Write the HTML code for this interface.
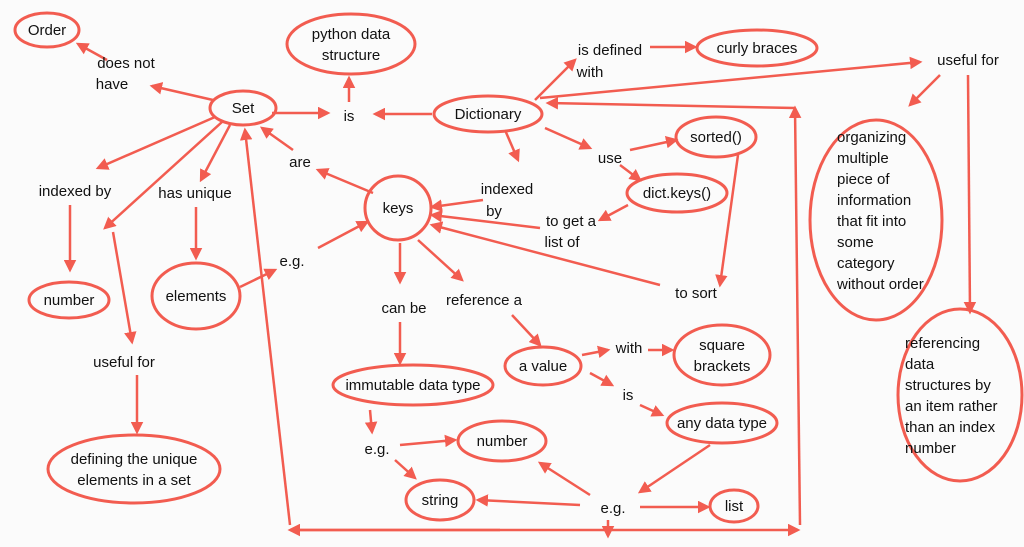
<!DOCTYPE html>
<html><head><meta charset="utf-8"><style>
html,body{margin:0;padding:0;background:#fbfbfb;}
svg{display:block}
text{font-family:"Liberation Sans",sans-serif;font-size:15px;fill:#111;text-anchor:middle}
.s{fill:none;stroke:#f25c50;stroke-width:3}
.l{stroke:#f25c50;stroke-width:2.5;fill:none}
</style></head><body>
<svg width="1024" height="547" viewBox="0 0 1024 547">
<defs><marker id="a" viewBox="0 0 10 10" refX="8" refY="5" markerWidth="5" markerHeight="5" orient="auto"><path d="M0,0 L10,5 L0,10 z" fill="#f25c50"/></marker></defs>
<g class="s">
<ellipse cx="47" cy="30" rx="32" ry="17"/>
<ellipse cx="351" cy="44" rx="64" ry="30"/>
<ellipse cx="757" cy="48" rx="60" ry="18"/>
<ellipse cx="243" cy="108" rx="33" ry="17"/>
<ellipse cx="488" cy="114" rx="54" ry="18"/>
<ellipse cx="716" cy="137" rx="40" ry="20"/>
<ellipse cx="677" cy="193" rx="50" ry="19"/>
<ellipse cx="398" cy="208" rx="33" ry="32"/>
<ellipse cx="69" cy="300" rx="40" ry="18"/>
<ellipse cx="196" cy="296" rx="44" ry="33"/>
<ellipse cx="876" cy="220" rx="66" ry="100"/>
<ellipse cx="960" cy="395" rx="62" ry="86"/>
<ellipse cx="543" cy="366" rx="38" ry="19"/>
<ellipse cx="722" cy="355" rx="48" ry="30"/>
<ellipse cx="413" cy="385" rx="80" ry="20"/>
<ellipse cx="722" cy="423" rx="55" ry="20"/>
<ellipse cx="502" cy="441" rx="44" ry="20"/>
<ellipse cx="134" cy="469" rx="86" ry="34"/>
<ellipse cx="440" cy="500" rx="34" ry="20"/>
<ellipse cx="734" cy="506" rx="24" ry="16"/>
</g>
<g class="l" marker-end="url(#a)">
<path d="M213,100 L152,86"/><path d="M107,60 L78,44"/>
<path d="M272,113 L328,113"/><path d="M432,114 L375,114"/><path d="M349,102 L349,78"/>
<path d="M373,193 L318,170"/><path d="M293,150 L262,128"/>
<path d="M215,117 L98,168"/><path d="M230,125 L201,180"/><path d="M222,122 L105,228"/>
<path d="M113,232 L132,342"/>
<path d="M70,205 L70,270"/><path d="M196,207 L196,258"/>
<path d="M240,287 L275,270"/><path d="M318,248 L367,222"/>
<path d="M137,375 L137,432"/>
<path d="M290,525 L245,130"/>
<path d="M608,520 L608,536"/>
<path d="M800,525 L795,108"/>
<path d="M795,108 L548,103"/>
<path d="M540,98 L920,62"/>
<path d="M535,100 L575,60"/><path d="M650,47 L695,47"/>
<path d="M940,75 L910,105"/><path d="M968,75 L970,312"/>
<path d="M505,130 L518,160"/><path d="M483,200 L432,207"/>
<path d="M545,128 L590,148"/><path d="M630,150 L676,140"/><path d="M620,165 L640,180"/>
<path d="M628,205 L600,220"/><path d="M540,228 L432,215"/>
<path d="M738,155 L720,285"/><path d="M660,285 L432,225"/>
<path d="M400,243 L400,282"/><path d="M418,240 L462,280"/>
<path d="M400,322 L400,363"/><path d="M512,315 L540,345"/>
<path d="M582,355 L608,350"/><path d="M648,350 L672,350"/>
<path d="M590,373 L612,385"/><path d="M640,405 L662,415"/>
<path d="M370,410 L372,432"/><path d="M400,445 L455,440"/><path d="M395,460 L415,478"/>
<path d="M710,445 L640,492"/><path d="M590,495 L540,463"/><path d="M580,505 L478,500"/><path d="M640,507 L708,507"/>
</g>
<path class="l" d="M292,530 L798,530" marker-end="url(#a)" marker-start="url(#a)" style="marker-start:none"/>
<path class="l" d="M500,530 L290,530" marker-end="url(#a)"/>
<text x="47" y="35">Order</text>
<text x="351" y="39">python data</text><text x="351" y="60">structure</text>
<text x="757" y="53">curly braces</text>
<text x="243" y="113">Set</text>
<text x="488" y="119">Dictionary</text>
<text x="716" y="142">sorted()</text>
<text x="677" y="198">dict.keys()</text>
<text x="398" y="213">keys</text>
<text x="69" y="305">number</text>
<text x="196" y="301">elements</text>
<g style="text-anchor:start"><text x="837" y="142" style="text-anchor:start">organizing</text>
<text x="837" y="163" style="text-anchor:start">multiple</text>
<text x="837" y="184" style="text-anchor:start">piece of</text>
<text x="837" y="205" style="text-anchor:start">information</text>
<text x="837" y="226" style="text-anchor:start">that fit into</text>
<text x="837" y="247" style="text-anchor:start">some</text>
<text x="837" y="268" style="text-anchor:start">category</text>
<text x="837" y="289" style="text-anchor:start">without order</text>
<text x="905" y="348" style="text-anchor:start">referencing</text>
<text x="905" y="369" style="text-anchor:start">data</text>
<text x="905" y="390" style="text-anchor:start">structures by</text>
<text x="905" y="411" style="text-anchor:start">an item rather</text>
<text x="905" y="432" style="text-anchor:start">than an index</text>
<text x="905" y="453" style="text-anchor:start">number</text></g>
<text x="543" y="371">a value</text>
<text x="722" y="350">square</text><text x="722" y="371">brackets</text>
<text x="413" y="390">immutable data type</text>
<text x="722" y="428">any data type</text>
<text x="502" y="446">number</text>
<text x="134" y="464">defining the unique</text><text x="134" y="485">elements in a set</text>
<text x="440" y="505">string</text>
<text x="734" y="511">list</text>
<text x="126" y="68">does not</text><text x="112" y="89">have</text>
<text x="349" y="121">is</text>
<text x="610" y="55">is defined</text><text x="590" y="77">with</text>
<text x="968" y="65">useful for</text>
<text x="300" y="167">are</text>
<text x="75" y="196">indexed by</text>
<text x="195" y="198">has unique</text>
<text x="507" y="194">indexed</text><text x="494" y="216">by</text>
<text x="610" y="163">use</text>
<text x="571" y="226">to get a</text><text x="562" y="247">list of</text>
<text x="292" y="266">e.g.</text>
<text x="404" y="313">can be</text>
<text x="484" y="305">reference a</text>
<text x="696" y="298">to sort</text>
<text x="124" y="367">useful for</text>
<text x="629" y="353">with</text>
<text x="628" y="400">is</text>
<text x="377" y="454">e.g.</text>
<text x="613" y="513">e.g.</text>
</svg>
</body></html>
